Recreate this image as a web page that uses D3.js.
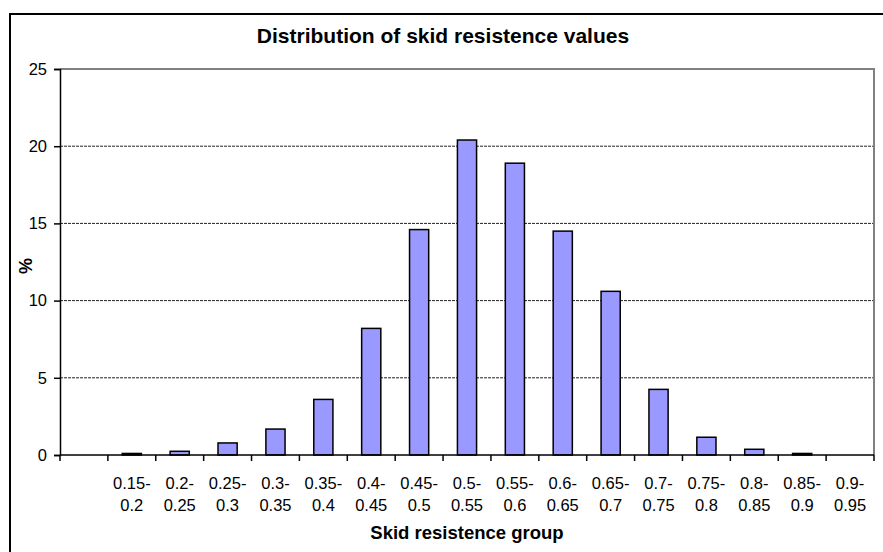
<!DOCTYPE html>
<html>
<head>
<meta charset="utf-8">
<script src="https://cdn.jsdelivr.net/npm/d3@7"></script>
<style>
  body { margin: 0; background: #fff; }
  text { font-family: "Liberation Sans", Arial, sans-serif; fill: #000; }
</style>
</head>
<body>
<svg id="chart" width="883" height="552"></svg>
<script>
// groups (first one is an empty category in the original sheet)
var groups = ["", "0.15-0.2", "0.2-0.25", "0.25-0.3", "0.3-0.35", "0.35-0.4", "0.4-0.45",
  "0.45-0.5", "0.5-0.55", "0.55-0.6", "0.6-0.65", "0.65-0.7", "0.7-0.75", "0.75-0.8",
  "0.8-0.85", "0.85-0.9", "0.9-0.95"];
var percents = [0, 0.1, 0.24, 0.78, 1.68, 3.6, 8.2, 14.6, 20.4, 18.9, 14.5, 10.6, 4.25, 1.15, 0.37, 0.1, 0];
var yTicks = [0, 5, 10, 15, 20, 25];

var svg = d3.select("#chart");
var plotL = 60, plotR = 874, plotT = 69, plotB = 455;

// outer chart frame
svg.append("rect")
  .attr("x", 10).attr("y", 14)
  .attr("width", 900).attr("height", 600)
  .attr("fill", "#fff")
  .attr("stroke", "#000")
  .attr("stroke-width", 2);

var x = d3.scaleBand()
  .domain(groups)
  .range([plotL, plotR])
  .paddingInner(0.6)
  .paddingOuter(0.3);

var y = d3.scaleLinear()
  .domain([0, 25])
  .range([plotB, plotT]);

// gridlines
svg.append("g")
  .selectAll("line")
  .data(yTicks.filter(function (d) { return d > 0 && d < 25; }))
  .enter().append("line")
  .attr("x1", plotL).attr("x2", plotR)
  .attr("y1", function (d) { return y(d); })
  .attr("y2", function (d) { return y(d); })
  .attr("stroke", "#222")
  .attr("stroke-width", 1)
  .attr("stroke-dasharray", "3,1");

// plot area border (top + right, grey)
svg.append("path")
  .attr("d", "M" + plotL + "," + y(25) + "H" + plotR + "V" + plotB)
  .attr("fill", "none")
  .attr("stroke", "#808080")
  .attr("stroke-width", 2);

// bars
svg.append("g")
  .selectAll("rect")
  .data(groups.map(function (g, i) { return { g: g, v: percents[i] }; })
    .filter(function (d) { return d.v > 0; }))
  .enter().append("rect")
  .attr("x", function (d) { return x(d.g); })
  .attr("width", x.bandwidth())
  .attr("y", function (d) { return y(d.v); })
  .attr("height", function (d) { return y(0) - y(d.v); })
  .attr("fill", "#9999ff")
  .attr("stroke", "#000")
  .attr("stroke-width", 1.5);

// y axis
var yAxis = svg.append("g")
  .attr("transform", "translate(" + plotL + ",0)")
  .call(d3.axisLeft(y).tickValues(yTicks).tickSize(6).tickPadding(7));
yAxis.select(".domain").attr("stroke-width", 1.5);
yAxis.selectAll(".tick line").attr("stroke-width", 1.5);
yAxis.selectAll("text")
  .style("font-size", "16.5px")
  .style("font-family", "Liberation Sans, Arial, sans-serif");

// x axis: ticks at category boundaries
var bounds = d3.range(groups.length + 1).map(function (i) { return plotL + i * (plotR - plotL) / groups.length; });
svg.append("line")
  .attr("x1", plotL).attr("x2", plotR)
  .attr("y1", plotB).attr("y2", plotB)
  .attr("stroke", "#000").attr("stroke-width", 1.5);
svg.append("g")
  .selectAll("line")
  .data(bounds)
  .enter().append("line")
  .attr("x1", function (d) { return d; }).attr("x2", function (d) { return d; })
  .attr("y1", plotB).attr("y2", plotB + 6)
  .attr("stroke", "#000").attr("stroke-width", 1.5);

// x labels on two lines
var lbl = svg.append("g")
  .selectAll("text")
  .data(groups.filter(function (g) { return g !== ""; }))
  .enter().append("text")
  .attr("text-anchor", "middle")
  .style("font-size", "16.5px");
lbl.append("tspan")
  .attr("x", function (d) { return x(d) + x.bandwidth() / 2; })
  .attr("y", 489)
  .text(function (d) { return d.split("-")[0] + "-"; });
lbl.append("tspan")
  .attr("x", function (d) { return x(d) + x.bandwidth() / 2; })
  .attr("y", 511)
  .text(function (d) { return d.split("-")[1]; });

// titles
svg.append("text")
  .attr("x", 443).attr("y", 43)
  .attr("text-anchor", "middle")
  .style("font-size", "21px").style("font-weight", "bold")
  .text("Distribution of skid resistence values");

svg.append("text")
  .attr("x", (plotL + plotR) / 2).attr("y", 539)
  .attr("text-anchor", "middle")
  .style("font-size", "18.5px").style("font-weight", "bold")
  .text("Skid resistence group");

svg.append("text")
  .attr("transform", "translate(32," + ((plotT + plotB) / 2 + 4) + ") rotate(-90)")
  .attr("text-anchor", "middle")
  .style("font-size", "18px").style("font-weight", "bold")
  .text("%");
</script>
</body>
</html>
